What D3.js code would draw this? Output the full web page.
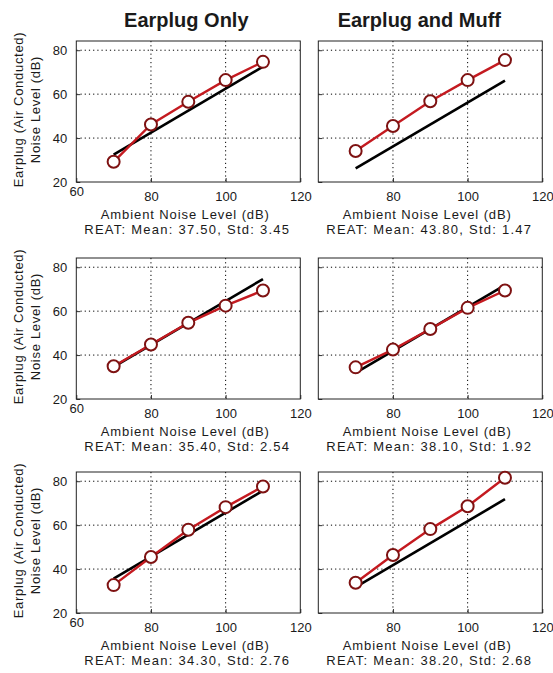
<!DOCTYPE html>
<html>
<head>
<meta charset="utf-8">
<script src="https://cdn.jsdelivr.net/npm/d3@7"></script>
<style>
  html, body { margin: 0; padding: 0; background: #fff; }
  svg text { font-family: "Liberation Sans", Arial, sans-serif; fill: #1a1a1a; }
</style>
</head>
<body>
<svg id="chart" width="553" height="673"></svg>
<script>
(() => {
  /* ---------- DATA ---------- */
  const ambient = [70, 80, 90, 100, 110];
  const refX = [70, 110];

  const columnTitles = ["Earplug Only", "Earplug and Muff"];

  const earplugOnly1 = [29.2, 46.2, 56.5, 66.4, 74.7];
  const earplugOnly2 = [34.9, 44.8, 54.7, 62.5, 69.4];
  const earplugOnly3 = [32.7, 45.5, 57.9, 68.2, 77.6];

  const earplugMuff1 = [34.1, 45.5, 56.8, 66.4, 75.5];
  const earplugMuff2 = [34.4, 42.5, 51.9, 61.5, 69.4];
  const earplugMuff3 = [33.8, 46.4, 58.2, 68.6, 81.6];

  const refOnly = [[32.5, 72.5], [34.6, 74.6], [35.7, 75.7]];
  const refMuff = [[26.2, 66.2], [31.9, 71.9], [31.8, 71.8]];

  const reatMeanOnly = [37.50, 35.40, 34.30];
  const reatStdOnly = [3.45, 2.54, 2.76];
  const reatMeanMuff = [43.80, 38.10, 38.20];
  const reatStdMuff = [1.47, 1.92, 2.68];

  const xTicks = [60, 80, 100, 120];
  const yTicks = [20, 40, 60, 80];
  const gridX = [80, 100];
  const gridY = [40, 60, 80];

  /* ---------- LAYOUT ---------- */
  const svg = d3.select("#chart");
  const colX = [76.3, 318.3];
  const rowY = [41, 258, 472];
  const pw = 224;
  const ph = 141;
  const titleShift = [-2, -11];

  const RED = "#c41a20";
  const MARKER = "#7e1212";

  const panels = [
    { row: 0, col: 0, vals: earplugOnly1, ref: refOnly[0], mean: reatMeanOnly[0], std: reatStdOnly[0] },
    { row: 0, col: 1, vals: earplugMuff1, ref: refMuff[0], mean: reatMeanMuff[0], std: reatStdMuff[0] },
    { row: 1, col: 0, vals: earplugOnly2, ref: refOnly[1], mean: reatMeanOnly[1], std: reatStdOnly[1] },
    { row: 1, col: 1, vals: earplugMuff2, ref: refMuff[1], mean: reatMeanMuff[1], std: reatStdMuff[1] },
    { row: 2, col: 0, vals: earplugOnly3, ref: refOnly[2], mean: reatMeanOnly[2], std: reatStdOnly[2] },
    { row: 2, col: 1, vals: earplugMuff3, ref: refMuff[2], mean: reatMeanMuff[2], std: reatStdMuff[2] }
  ];

  const x = d3.scaleLinear().domain([60, 120]).range([0, pw]);
  const y = d3.scaleLinear().domain([20, 84.2]).range([ph, 0]);

  /* ---------- TITLES ---------- */
  columnTitles.forEach((t, i) => {
    svg.append("text")
      .attr("x", colX[i] + pw / 2 + titleShift[i])
      .attr("y", 27)
      .attr("text-anchor", "middle")
      .style("font-size", "20px")
      .style("font-weight", "bold")
      .text(t);
  });

  /* ---------- PANELS ---------- */
  function drawPanel(p) {
    const g = svg.append("g")
      .attr("transform", `translate(${colX[p.col]},${rowY[p.row]})`);

    g.append("rect")
      .attr("width", pw).attr("height", ph)
      .attr("fill", "#fff");

    // dotted grid
    g.selectAll(".gx").data(gridX).join("line")
      .attr("x1", d => x(d)).attr("x2", d => x(d))
      .attr("y1", 0).attr("y2", ph)
      .attr("stroke", "#000").attr("stroke-width", 1)
      .attr("stroke-dasharray", "1.2,3");
    g.selectAll(".gy").data(gridY).join("line")
      .attr("y1", d => y(d)).attr("y2", d => y(d))
      .attr("x1", 0).attr("x2", pw)
      .attr("stroke", "#000").attr("stroke-width", 1)
      .attr("stroke-dasharray", "1.2,3");

    // x axis labels
    const xa = g.append("g")
      .attr("transform", `translate(0,${ph})`)
      .call(d3.axisBottom(x)
        .tickValues(p.col === 0 ? xTicks : xTicks.slice(1))
        .tickSize(-4)
        .tickPadding(10)
        .tickFormat(d3.format("d")));
    xa.select(".domain").remove();
    xa.selectAll("line").attr("stroke", "#333");
    xa.selectAll("text").style("font-size", "13px").attr("fill", "#1a1a1a");
    xa.selectAll("text").filter(d => d === 60).attr("dy", "0.3em");

    // y axis labels
    const ya = g.append("g")
      .call(d3.axisLeft(y)
        .tickValues(yTicks)
        .tickSize(-4)
        .tickPadding(9)
        .tickFormat(p.col === 0 ? d3.format("d") : ""));
    ya.select(".domain").remove();
    ya.selectAll("line").attr("stroke", "#333");
    ya.selectAll("text").style("font-size", "13px").attr("fill", "#1a1a1a");

    // frame
    g.append("rect")
      .attr("width", pw).attr("height", ph)
      .attr("fill", "none")
      .attr("stroke", "#222").attr("stroke-width", 1);

    // reference line (black)
    g.append("line")
      .attr("x1", x(refX[0])).attr("y1", y(p.ref[0]))
      .attr("x2", x(refX[1])).attr("y2", y(p.ref[1]))
      .attr("stroke", "#000").attr("stroke-width", 2.6);

    // measured (red)
    const pts = ambient.map((a, i) => [a, p.vals[i]]);
    g.append("path")
      .attr("d", d3.line().x(d => x(d[0])).y(d => y(d[1]))(pts))
      .attr("fill", "none")
      .attr("stroke", RED).attr("stroke-width", 2.4);
    g.selectAll("circle").data(pts).join("circle")
      .attr("cx", d => x(d[0])).attr("cy", d => y(d[1]))
      .attr("r", 6)
      .attr("fill", "#fff")
      .attr("stroke", MARKER).attr("stroke-width", 2);

    // x label + REAT text
    g.append("text")
      .attr("x", pw / 2 - 3).attr("y", ph + 37)
      .attr("text-anchor", "middle")
      .style("font-size", "13px")
      .style("letter-spacing", "0.9px")
      .text("Ambient Noise Level (dB)");
    g.append("text")
      .attr("x", pw / 2 - 1).attr("y", ph + 52)
      .attr("text-anchor", "middle")
      .style("font-size", "13px")
      .style("letter-spacing", "1.25px")
      .text(`REAT: Mean: ${p.mean.toFixed(2)}, Std: ${p.std.toFixed(2)}`);

    // y label (left column only)
    if (p.col === 0) {
      const cy = rowY[p.row] + ph / 2 - 2;
      const yl = svg.append("g").attr("transform", `translate(0,${cy})`);
      yl.append("text")
        .attr("transform", "translate(23,0) rotate(-90)")
        .attr("text-anchor", "middle")
        .style("font-size", "13px")
        .style("letter-spacing", "0.7px")
        .text("Earplug (Air Conducted)");
      yl.append("text")
        .attr("transform", "translate(40,0) rotate(-90)")
        .attr("text-anchor", "middle")
        .style("font-size", "13px")
        .style("letter-spacing", "0.7px")
        .text("Noise Level (dB)");
    }
  }

  panels.forEach(drawPanel);
})();
</script>
</body>
</html>
